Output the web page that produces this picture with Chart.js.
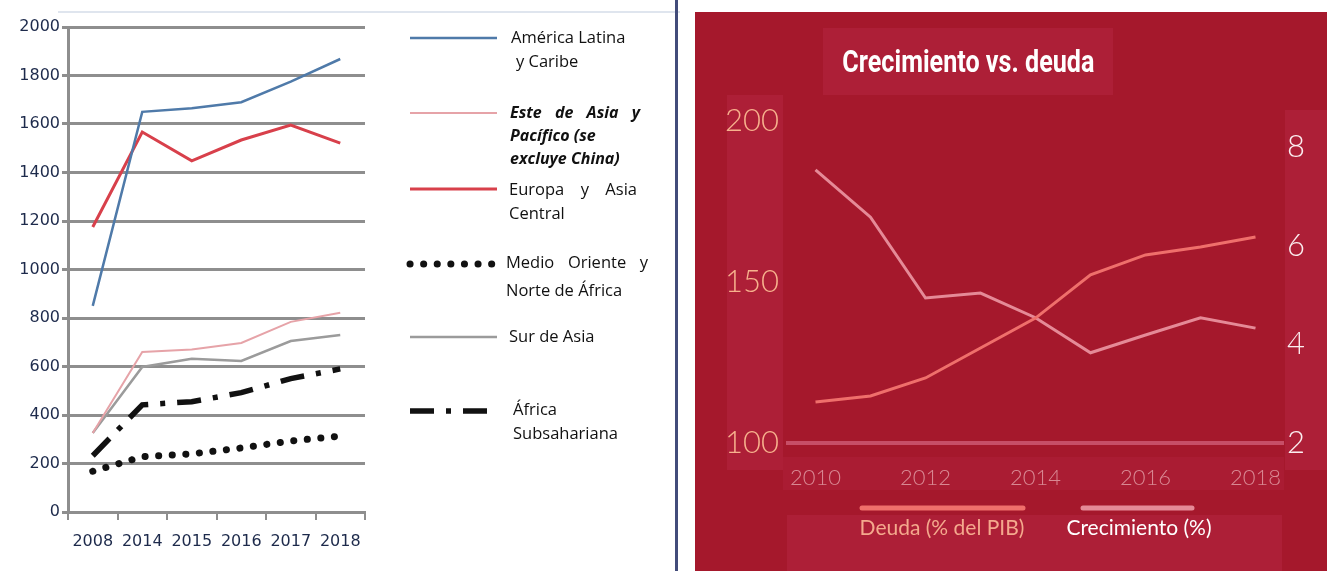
<!DOCTYPE html>
<html lang="es">
<head>
<meta charset="utf-8">
<title>Deuda por región y crecimiento vs. deuda</title>
<script src="https://cdn.jsdelivr.net/npm/chart.js@4.4.1/dist/chart.umd.min.js"></script>
<style>
  html, body { margin: 0; padding: 0; background: #fff; }
  body { width: 1327px; height: 571px; position: relative; overflow: hidden; }
  #izq { position: absolute; left: 0; top: 0; width: 672px; height: 571px; }
  #linea-sup { position: absolute; left: 58px; top: 11px; width: 622px; height: 2px; background: #dfe5ee; }
  #divisor { position: absolute; left: 675px; top: 0; width: 3px; height: 571px; background: #424c7a; }
  #der { position: absolute; left: 695px; top: 12px; width: 632px; height: 559px; background: #a5182c; overflow: hidden; }
  .caja { position: absolute; background: #ad1f37; }
  #titulo-caja { left: 128px; top: 16px; width: 290px; height: 67px; }
  #titulo {
    position: absolute; left: 128px; top: 16px; width: 290px; height: 67px;
    display: flex; align-items: center; justify-content: center;
    color: #fff; font: bold 31px Roboto, 'Open Sans', sans-serif; white-space: nowrap;
  }
  #titulo span { display: inline-block; transform-origin: center; }
  .marco { position: absolute; left: 0; top: 0; width: 100%; height: 100%; }
</style>
</head>
<body>

<div id="izq"><canvas id="grafico-regiones"></canvas></div>
<div id="linea-sup"></div>
<div id="divisor"></div>

<div id="der">
  <div class="caja" id="titulo-caja"></div>
  <div class="caja" style="left:32px; top:83px; width:56px; height:375px;"></div>
  <div class="caja" style="left:590px; top:98px; width:42px; height:360px;"></div>
  <div class="caja" style="left:88px; top:445px; width:501px; height:33px; background:#aa1c33;"></div>
  <div class="caja" style="left:92px; top:503px; width:495px; height:56px;"></div>
  <div class="marco"><canvas id="grafico-deuda"></canvas></div>
  <div id="titulo"><span id="titulo-texto"></span></div>
</div>

<script>
/* ---- Gráfico izquierdo: deuda por región ---- */
const aniosIzq = ['2008', '2014', '2015', '2016', '2017', '2018'];
const americaLatina = [850, 1650, 1665, 1690, 1775, 1868];
const esteAsia = [326, 660, 670, 697, 784, 822];
const europaAsia = [1175, 1567, 1448, 1534, 1596, 1521];
const medioOriente = [168, 228, 240, 264, 293, 313];
const surAsia = [326, 598, 632, 623, 705, 730];
const africaSub = [232, 442, 455, 492, 550, 590];
const ticksIzq = [0, 200, 400, 600, 800, 1000, 1200, 1400, 1600, 1800, 2000];

const nombresIzq = [
    'América Latina y Caribe',
    'Este de Asia y Pacífico (se excluye China)',
    'Europa y Asia Central',
    'Medio Oriente y Norte de África',
    'Sur de Asia',
    'África Subsahariana'
];
const leyendaTextos = [
    ['América Latina', 'y Caribe'],
    ['Este de Asia y', 'Pacífico (se', 'excluye China)'],
    ['Europa y Asia', 'Central'],
    ['Medio Oriente y', 'Norte de África'],
    ['Sur de Asia'],
    ['África', 'Subsahariana']
];

/* ---- Gráfico derecho: crecimiento vs. deuda ---- */
const aniosDer = ['2010', '2011', '2012', '2013', '2014', '2015', '2016', '2017', '2018'];
const deuda = [112.7, 114.6, 120.2, 129.5, 138.8, 152.2, 158.4, 160.9, 164.0];
const crecimiento = [7.54, 6.58, 4.94, 5.04, 4.54, 3.83, 4.19, 4.54, 4.33];
const ticksDeuda = [100, 150, 200];
const ticksCrec = [2, 4, 6, 8];
const etiquetasDer = ['Deuda (% del PIB)', 'Crecimiento (%)'];
const tituloDer = 'Crecimiento vs. deuda';


const gris = '#8e8e8e';
const azulTexto = '#1d2a4b';

// posición de cada entrada de la leyenda izquierda (línea y renglones)
const posLeyenda = [
    { y: 38,  x: [511, 516], ty: [38, 62],  ancho: [0, 0] },
    { y: 113, x: [510, 510, 510], ty: [113, 136, 159], ancho: [130, 0, 0], negrita: true },
    { y: 189, x: [509, 509], ty: [190, 214], ancho: [128, 0] },
    { y: 264, x: [506, 506], ty: [263, 291], ancho: [142, 0] },
    { y: 337, x: [509], ty: [337], ancho: [0] },
    { y: 411, x: [513, 513], ty: [410, 434], ancho: [0, 0] }
];

// dibuja un renglón, justificado si se da un ancho
function textoJustificado(ctx, txt, x, y, ancho) {
    const palabras = txt.split(' ');
    if (!ancho || palabras.length < 2) {
        ctx.fillText(txt, x, y);
        return;
    }
    const total = palabras.reduce((s, p) => s + ctx.measureText(p).width, 0);
    const hueco = (ancho - total) / (palabras.length - 1);
    let cx = x;
    palabras.forEach(p => {
        ctx.fillText(p, cx, y);
        cx += ctx.measureText(p).width + hueco;
    });
}

const leyendaRegiones = {
    id: 'leyendaRegiones',
    afterDraw(chart) {
        const {ctx} = chart;
        chart.data.datasets.forEach((ds, i) => {
            const pos = posLeyenda[i];
            ctx.save();
            ctx.strokeStyle = ds.borderColor;
            ctx.lineWidth = ds.borderWidth;
            ctx.lineCap = ds.borderCapStyle || 'butt';
            ctx.setLineDash(ds.borderDash || []);
            ctx.beginPath();
            ctx.moveTo(410, pos.y);
            ctx.lineTo(497, pos.y);
            ctx.stroke();
            ctx.restore();

            ctx.save();
            ctx.fillStyle = '#111';
            ctx.textBaseline = 'middle';
            ctx.font = pos.negrita
                ? 'italic bold 16px "Open Sans", Arial, sans-serif'
                : '16.5px "Open Sans", Arial, sans-serif';
            leyendaTextos[i].forEach((t, j) => {
                textoJustificado(ctx, t, pos.x[j], pos.ty[j], pos.ancho[j]);
            });
            ctx.restore();
        });
    }
};

new Chart(document.getElementById('grafico-regiones'), {
    type: 'line',
    data: {
        labels: aniosIzq,
        datasets: [
            { label: nombresIzq[0], data: americaLatina, borderColor: '#4f7aa9', borderWidth: 2.5 },
            { label: nombresIzq[1], data: esteAsia, borderColor: '#e6a3a8', borderWidth: 2 },
            { label: nombresIzq[2], data: europaAsia, borderColor: '#d8404b', borderWidth: 3 },
            { label: nombresIzq[3], data: medioOriente, borderColor: '#111', borderWidth: 7,
              borderDash: [0.1, 13.5], borderCapStyle: 'round' },
            { label: nombresIzq[4], data: surAsia, borderColor: '#9b9b9b', borderWidth: 2.5 },
            { label: nombresIzq[5], data: africaSub, borderColor: '#111', borderWidth: 5.5,
              borderDash: [24, 12, 5, 12] }
        ]
    },
    options: {
        responsive: true,
        maintainAspectRatio: false,
        animation: false,
        layout: { padding: { top: 27, right: 307, bottom: 0, left: 0 } },
        elements: { point: { radius: 0 }, line: { tension: 0 } },
        plugins: { legend: { display: false }, tooltip: { enabled: false } },
        scales: {
            x: {
                offset: true,
                grid: { offset: true, drawOnChartArea: false, drawTicks: true, tickLength: 8, color: gris, lineWidth: 2 },
                border: { color: gris, width: 3 },
                ticks: {
                    color: azulTexto, padding: 12, maxRotation: 0, autoSkip: false,
                    font: { family: 'DejaVu Sans', size: 16 }
                },
                afterFit(s) { s.height = 59; }
            },
            y: {
                min: 0,
                max: 2000,
                afterBuildTicks(s) { s.ticks = ticksIzq.map(v => ({ value: v })); },
                grid: { color: gris, lineWidth: 3, tickLength: 6 },
                border: { color: gris, width: 3 },
                ticks: {
                    color: azulTexto, padding: 2, font: { family: 'DejaVu Sans', size: 16 },
                    callback: v => String(v)
                },
                afterFit(s) { s.width = 68; }
            }
        }
    },
    plugins: [leyendaRegiones]
});


/* ---- derecho ---- */
const leyendaDeuda = {
    id: 'leyendaDeuda',
    afterDraw(chart) {
        const {ctx} = chart;
        const tramos = [[167, 328, 247, '#f4a98d'], [388, 497, 444, '#ffffff']];
        chart.data.datasets.forEach((ds, i) => {
            const [x0, x1, xc, colorTxt] = tramos[i];
            ctx.save();
            ctx.strokeStyle = ds.borderColor;
            ctx.lineWidth = 5;
            ctx.lineCap = 'round';
            ctx.beginPath();
            ctx.moveTo(x0, 496);
            ctx.lineTo(x1, 496);
            ctx.stroke();
            ctx.fillStyle = colorTxt;
            ctx.font = '21px Lato, "Open Sans", sans-serif';
            ctx.textAlign = 'center';
            ctx.textBaseline = 'middle';
            ctx.fillText(etiquetasDer[i], xc, 516);
            ctx.restore();
        });
    }
};

new Chart(document.getElementById('grafico-deuda'), {
    type: 'line',
    data: {
        labels: aniosDer,
        datasets: [
            { label: etiquetasDer[0], data: deuda, yAxisID: 'yDeuda', borderColor: '#ef6f6b', borderWidth: 3 },
            { label: etiquetasDer[1], data: crecimiento, yAxisID: 'yCrec', borderColor: '#e58a97', borderWidth: 3 }
        ]
    },
    options: {
        responsive: true,
        maintainAspectRatio: false,
        animation: false,
        layout: { padding: { top: 109, right: 0, bottom: 0, left: 0 } },
        elements: { point: { radius: 0 }, line: { tension: 0 } },
        plugins: { legend: { display: false }, tooltip: { enabled: false } },
        scales: {
            x: {
                offset: true,
                grid: { display: false, drawTicks: false },
                border: { display: true, color: '#c74e67', width: 4 },
                ticks: {
                    autoSkip: false, maxRotation: 0, padding: 22, color: '#d98893',
                    font: { family: 'Lato', size: 22, weight: '300' },
                    callback: (v, i) => (i % 2 === 0 ? aniosDer[i] : '')
                },
                afterFit(s) { s.height = 128; }
            },
            yDeuda: {
                position: 'left',
                min: 100,
                max: 200,
                afterBuildTicks(s) { s.ticks = ticksDeuda.map(v => ({ value: v })); },
                grid: { display: false, drawTicks: false },
                border: { display: false },
                ticks: { color: '#f7b28d', padding: 9, font: { family: 'Lato', size: 31, weight: '300' } },
                afterFit(s) { s.width = 93; }
            },
            yCrec: {
                position: 'right',
                min: 2,
                max: 8.53,
                afterBuildTicks(s) { s.ticks = ticksCrec.map(v => ({ value: v })); },
                grid: { display: false, drawTicks: false },
                border: { display: false },
                ticks: { color: '#fbeef0', padding: 4, font: { family: 'Lato', size: 31, weight: '300' } },
                afterFit(s) { s.width = 44; }
            }
        }
    },
    plugins: [leyendaDeuda]
});

// título condensado al ancho del original
const tituloSpan = document.getElementById('titulo-texto');
tituloSpan.textContent = tituloDer;
const medida = tituloSpan.getBoundingClientRect().width;
tituloSpan.style.transform = `scaleX(${(252 / medida).toFixed(3)})`;
</script>
</body>
</html>
